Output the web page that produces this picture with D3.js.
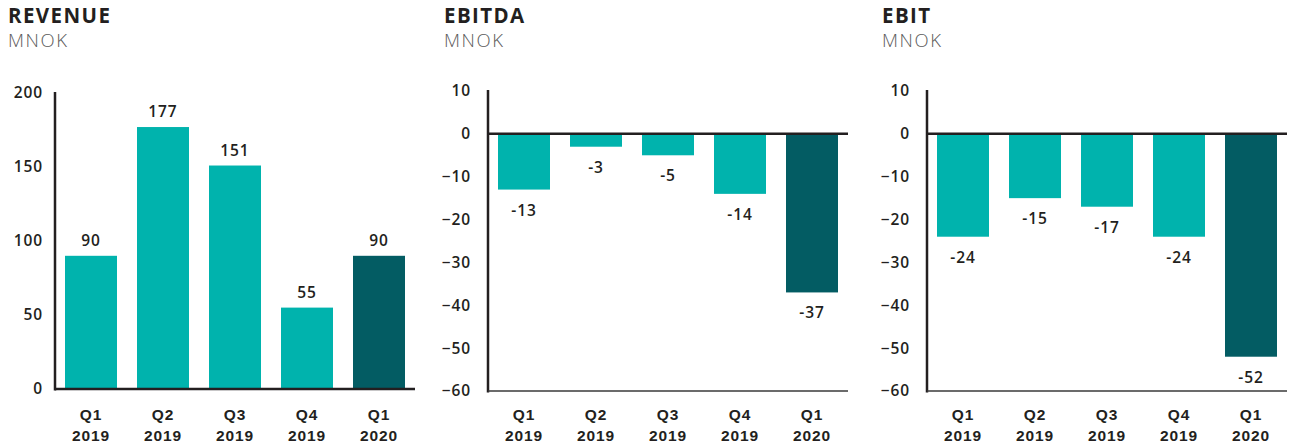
<!DOCTYPE html>
<html><head><meta charset="utf-8">
<script src="https://cdn.jsdelivr.net/npm/d3@7"></script>
<style>
html,body{margin:0;padding:0;background:#fff;}
svg{display:block;font-family:"Open Sans",sans-serif;}
</style></head>
<body><svg id="c" width="1289" height="446"></svg>
<script>
const categories = ["Q1 2019","Q2 2019","Q3 2019","Q4 2019","Q1 2020"];
const revenue = [90,177,151,55,90];
const ebitda = [-13,-3,-5,-14,-37];
const ebit = [-24,-15,-17,-24,-52];
const revenueTicks = [0,50,100,150,200];
const lossTicks = [10,0,-10,-20,-30,-40,-50,-60];
const titles = ["REVENUE","EBITDA","EBIT"];
const unit = "MNOK";

const teal = "#00b3ad", dark = "#035c63", ink = "#231f20";
const svg = d3.select("#c");

const panels = [
  {title:titles[0], data:revenue, domain:[0,200], ticks:revenueTicks, left:8, axisX:55, yTop:93, yBot:389, pad:12},
  {title:titles[1], data:ebitda, domain:[-60,10], ticks:lossTicks, left:444, axisX:488, yTop:91, yBot:391, pad:17},
  {title:titles[2], data:ebit, domain:[-60,10], ticks:lossTicks, left:882, axisX:927, yTop:91, yBot:391, pad:17}
];

const lbl = sel => sel.attr("font-size",15.5).attr("font-weight",600).attr("fill",ink).attr("letter-spacing",0.9);

panels.forEach(p => {
  const g = svg.append("g");
  g.append("text").attr("x",p.left).attr("y",22.5).text(p.title)
    .attr("font-size",20.5).attr("font-weight",700).attr("fill",ink).attr("letter-spacing",1.4);
  g.append("text").attr("x",p.left).attr("y",47).text(unit)
    .attr("font-size",18.5).attr("font-weight",300).attr("fill","#5a5a5a").attr("letter-spacing",1.6);

  const x = d3.scaleBand().domain(categories).range([p.axisX, p.axisX+360])
    .paddingInner(20/72).paddingOuter(10/72);
  const y = d3.scaleLinear().domain(p.domain).range([p.yBot, p.yTop]);

  // bars
  g.selectAll("rect").data(p.data).join("rect")
    .attr("x",(d,i)=>x(categories[i]))
    .attr("width",x.bandwidth())
    .attr("y",d=>y(Math.max(0,d)))
    .attr("height",d=>Math.abs(y(d)-y(0)))
    .attr("fill",(d,i)=> i===categories.length-1 ? dark : teal);

  // value labels
  g.selectAll("text.val").data(p.data).join("text").attr("class","val")
    .attr("x",(d,i)=>x(categories[i])+x.bandwidth()/2)
    .attr("y",d=> d>=0 ? y(d)-10 : y(d)+26)
    .attr("text-anchor","middle").call(lbl)
    .text(d=>d);

  // y axis
  const ya = d3.axisLeft(y).tickValues(p.ticks).tickSize(0).tickPadding(p.pad);
  const yg = g.append("g").attr("transform",`translate(${p.axisX},0)`).call(ya);
  yg.select(".domain").remove();
  yg.selectAll("text").call(lbl).attr("font-family","'Open Sans',sans-serif");
  g.append("line").attr("x1",p.axisX).attr("x2",p.axisX).attr("y1",p.yTop-1).attr("y2",p.yBot+1.5)
    .attr("stroke",ink).attr("stroke-width",2.5);

  // baseline lines
  const x2 = p.axisX+360;
  g.append("line").attr("x1",p.axisX).attr("x2",x2).attr("y1",y(0)).attr("y2",y(0))
    .attr("stroke",ink).attr("stroke-width",2.5);
  if (p.domain[0] < 0) {
    g.append("line").attr("x1",p.axisX).attr("x2",x2).attr("y1",p.yBot).attr("y2",p.yBot)
      .attr("stroke","#3a3a3a").attr("stroke-width",1.6);
  }

  // x axis labels
  const xa = d3.axisBottom(x).tickSize(0).tickFormat("");
  const xg = g.append("g").call(xa);
  xg.select(".domain").remove();
  xg.selectAll(".tick").each(function(d){
    const parts = d.split(" ");
    const t = d3.select(this).append("text").attr("text-anchor","middle").call(lbl);
    t.append("tspan").attr("x",0).attr("y",420).text(parts[0]);
    t.append("tspan").attr("x",0).attr("y",441).text(parts[1]);
  });
});
</script></body></html>
